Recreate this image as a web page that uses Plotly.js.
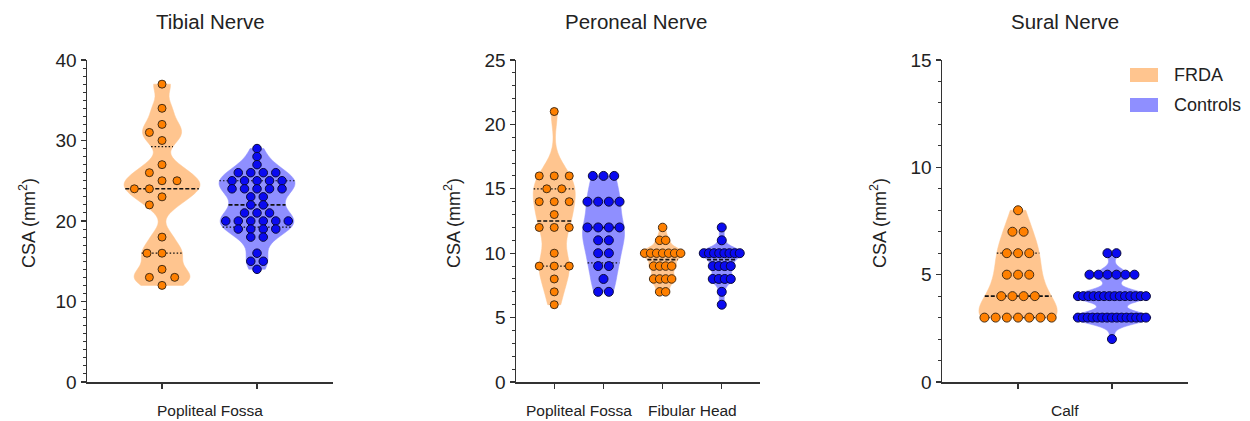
<!DOCTYPE html>
<html><head><meta charset="utf-8">
<script src="https://cdn.plot.ly/plotly-3.0.1.min.js"></script>
<style>html,body{margin:0;padding:0;background:#fff;} #chart{width:1250px;height:421px;}</style>
</head><body><div id="chart"></div>
<script>
// ---------------- DATA ----------------
const panelTitles = ['Tibial Nerve', 'Peroneal Nerve', 'Sural Nerve'];
const seriesNames = ['FRDA', 'Controls'];
const groupLabels = [['Popliteal Fossa'], ['Popliteal Fossa', 'Fibular Head'], ['Calf']];
const yAxisTitle = 'CSA (mm<sup>2</sup>)';

const tibialFRDA = [37,34,32,31,30,27,26,25,25,24,24,23,22,18,16,16,14,13,13,12];
const tibialControls = [29,28,27,26,26,26,26,25,25,25,25,25,24,24,24,24,24,23,23,22,22,21,21,21,20,20,20,20,20,20,19,19,19,19,18,18,16,15,15,14];
const peronealPoplitealFRDA = [21,16,16,16,15,15,14,14,14,13,12,12,12,10,9,9,9,8,7,6];
const peronealPoplitealControls = [16,16,16,14,14,14,14,12,12,12,12,11,11,10,10,9,9,8,7,7];
const peronealFibularFRDA = [12,11,11,10,10,10,10,10,10,10,9,9,9,9,8,8,8,8,7,7];
const peronealFibularControls = [12,11,10,10,10,10,10,10,10,10,9,9,9,9,8,8,8,8,7,6];
const suralFRDA = [8,7,7,6,6,6,5,5,5,4,4,4,4,3,3,3,3,3,3,3];
const suralControls = [6,6,5,5,5,5,5,5,4,4,4,4,4,4,4,4,4,4,4,4,4,4,3,3,3,3,3,3,3,3,3,3,3,3,3,3,3,2];

// ---------------- LAYOUT CONFIG ----------------
const W = 1250, H = 421;
const plotTopPx = 60, plotBottomPx = 382;
const panels = [
  {domPx: [87, 333], pos: [0, 1], range: [-0.79, 1.8], yMax: 40, major: 10, yTitlePx: 27, titlePx: 210},
  {domPx: [516, 760], pos: [0, 1, 2.2, 3.4], range: [-0.776, 4.176], yMax: 25, major: 5, yTitlePx: 452, titlePx: 636},
  {domPx: [942, 1188], pos: [0, 1], range: [-0.81, 1.81], yMax: 15, major: 5, yTitlePx: 878, titlePx: 1065}
];
const fills = ['rgb(255,197,143)', 'rgb(143,143,255)'];
const dotColors = ['rgb(255,128,0)', 'rgb(10,10,240)'];
const dotLines = ['rgb(70,45,20)', 'rgb(10,10,60)'];

const series = [
  {panel: 0, slot: 0, grp: 0, data: tibialFRDA, bw: 1.15, halfPx: 38, mode: 'swarm', distPx: 15, size: 8},
  {panel: 0, slot: 1, grp: 1, data: tibialControls, bw: 1.3, halfPx: 38, mode: 'rows', gapPx: 12.5, spanPx: 66, size: 8.5},
  {panel: 1, slot: 0, grp: 0, data: peronealPoplitealFRDA, bw: 1.2, halfPx: 21, mode: 'rows', gapPx: 15, spanPx: 32, size: 8},
  {panel: 1, slot: 1, grp: 1, data: peronealPoplitealControls, bw: 1.1, halfPx: 21, mode: 'rows', gapPx: 10.7, spanPx: 34, size: 9},
  {panel: 1, slot: 2, grp: 0, data: peronealFibularFRDA, bw: 0.4, halfPx: 22, mode: 'rows', gapPx: 6, spanPx: 36, size: 8.5},
  {panel: 1, slot: 3, grp: 1, data: peronealFibularControls, bw: 0.4, halfPx: 22, mode: 'rows', gapPx: 6, spanPx: 36, size: 9},
  {panel: 2, slot: 0, grp: 0, data: suralFRDA, bw: 0.7, halfPx: 39, mode: 'rows', gapPx: 11.2, spanPx: 70, size: 9},
  {panel: 2, slot: 1, grp: 1, data: suralControls, bw: 0.28, halfPx: 39, mode: 'rows', gapPx: 9, spanPx: 68, size: 9}
];

// ---------------- HELPERS ----------------
function pxPerUnit(p) { return (p.domPx[1] - p.domPx[0]) / (p.range[1] - p.range[0]); }
function yPxPerUnit(p) { return (plotBottomPx - plotTopPx) / p.yMax; }
function kde(vals, bw, x) {
  let s = 0;
  for (const v of vals) { const z = (x - v) / bw; s += Math.exp(-0.5 * z * z); }
  return s / (vals.length * bw);
}
function quantile(vals, p) { // Prism-style (n+1)p
  const a = vals.slice().sort((m, n) => m - n);
  const n = a.length; let h = (n + 1) * p;
  if (h <= 1) return a[0]; if (h >= n) return a[n - 1];
  const lo = Math.floor(h); return a[lo - 1] + (h - lo) * (a[lo] - a[lo - 1]);
}
function rowsLayout(vals, gap, span) {
  const groups = {}; const offs = new Array(vals.length);
  vals.forEach((v, i) => { (groups[v] = groups[v] || []).push(i); });
  Object.keys(groups).forEach(k => {
    const idx = groups[k]; const n = idx.length;
    const s = n > 1 ? Math.min(gap, span / (n - 1)) : 0;
    idx.forEach((ii, j) => { offs[ii] = (j - (n - 1) / 2) * s; });
  });
  return offs;
}
function swarmLayout(vals, D, yppu, limitFn) { // collision-based beeswarm in px
  const order = vals.map((v, i) => i).sort((a, b) => vals[b] - vals[a]);
  const placed = []; const offs = new Array(vals.length);
  order.forEach(i => {
    const y = vals[i] * yppu;
    const cands = [0];
    placed.forEach(q => {
      const dy = Math.abs(q.y - y);
      if (dy < D) { const dx = Math.sqrt(D * D - dy * dy); cands.push(q.x - dx, q.x + dx); }
    });
    let ok = cands.filter(c => placed.every(q => (q.x - c) ** 2 + (q.y - y) ** 2 >= D * D - 1e-6));
    ok.sort((a, b) => Math.abs(a) - Math.abs(b) || a - b);
    const lim = limitFn(vals[i]);
    const inside = ok.filter(c => Math.abs(c) <= lim);
    const x = inside.length ? inside[0] : ok[0];
    placed.push({x: x, y: y}); offs[i] = x;
  });
  return offs;
}

// ---------------- BUILD ----------------
const traces = [];
const lineTraces = [];
const dotTraces = [];
const layout = {
  width: W, height: H, margin: {l: 0, r: 0, t: 0, b: 0},
  paper_bgcolor: '#fff', plot_bgcolor: 'rgba(0,0,0,0)', showlegend: false,
  font: {family: 'Liberation Sans, Arial, sans-serif', color: '#222'},
  violinmode: 'overlay', annotations: [], shapes: []
};
const yDom = [(H - plotBottomPx) / H, (H - plotTopPx) / H];

panels.forEach((p, i) => {
  const sfx = i === 0 ? '' : String(i + 1);
  layout['xaxis' + sfx] = {
    domain: [p.domPx[0] / W, p.domPx[1] / W], range: p.range, anchor: 'y' + sfx,
    showline: true, linecolor: '#333', linewidth: 1.5, zeroline: false, showgrid: false,
    tickmode: 'array', tickvals: p.pos, showticklabels: false, ticks: 'outside',
    ticklen: 5, tickwidth: 1.2, tickcolor: '#333', fixedrange: true
  };
  layout['yaxis' + sfx] = {
    domain: yDom, range: [0, p.yMax], anchor: 'x' + sfx,
    showline: true, linecolor: '#333', linewidth: 1.5, zeroline: false, showgrid: false,
    dtick: p.major, tick0: 0, ticks: 'outside', ticklen: 5, tickwidth: 1.2, tickcolor: '#333',
    tickfont: {size: 19, color: '#222'},
    minor: {dtick: 1, ticks: 'outside', ticklen: 3, tickwidth: 1, tickcolor: '#333', showgrid: false}
  };
  layout.annotations.push({
    text: panelTitles[i], xref: 'paper', yref: 'paper', x: p.titlePx / W, y: 1 - 22 / H,
    xanchor: 'center', yanchor: 'middle', showarrow: false, font: {size: 20.5, color: '#222'}
  });
  layout.annotations.push({
    text: yAxisTitle, xref: 'paper', yref: 'paper', x: p.yTitlePx / W, y: 1 - 223 / H,
    xanchor: 'center', yanchor: 'middle', textangle: -90, showarrow: false, font: {size: 18, color: '#222'}
  });
  groupLabels[i].forEach((lab, g) => {
    layout.annotations.push({
      text: lab, xref: 'x' + sfx, yref: 'paper', x: (p.pos[2 * g] + p.pos[2 * g + 1]) / 2, y: 1 - 410 / H,
      xanchor: 'center', yanchor: 'middle', showarrow: false, font: {size: 15.5, color: '#222'}
    });
  });
});

series.forEach(s => {
  const p = panels[s.panel];
  const sfx = s.panel === 0 ? '' : String(s.panel + 1);
  const ppu = pxPerUnit(p);
  const x0 = p.pos[s.slot];
  const halfW = s.halfPx / ppu;
  traces.push({
    type: 'violin', x0: x0, y: s.data, xaxis: 'x' + sfx, yaxis: 'y' + sfx,
    width: 2 * halfW, bandwidth: s.bw, spanmode: 'hard', scalemode: 'width',
    fillcolor: fills[s.grp], line: {color: fills[s.grp], width: 0.5},
    points: false, box: {visible: false}, meanline: {visible: false},
    hoverinfo: 'skip', name: seriesNames[s.grp]
  });
  const mn = Math.min(...s.data), mx = Math.max(...s.data);
  let maxK = 0;
  for (let k = 0; k <= 400; k++) { maxK = Math.max(maxK, kde(s.data, s.bw, mn + (mx - mn) * k / 400)); }
  const halfPxAt = v => s.halfPx * kde(s.data, s.bw, v) / maxK;
  [[0.25, 'dot', 1.2], [0.5, 'dash', 1.6], [0.75, 'dot', 1.2]].forEach(([q, dash, w]) => {
    const v = quantile(s.data, q);
    const hw = halfW * kde(s.data, s.bw, v) / maxK;
    lineTraces.push({
      type: 'scatter', mode: 'lines', x: [x0 - hw, x0 + hw], y: [v, v], xaxis: 'x' + sfx, yaxis: 'y' + sfx,
      line: {color: '#111', width: w, dash: dash === 'dash' ? '4px,2px' : '1.5px,2px'}, hoverinfo: 'skip'
    });
  });
  const offs = s.mode === 'swarm'
    ? swarmLayout(s.data, s.distPx, yPxPerUnit(p), v => halfPxAt(v) - s.size / 2)
    : rowsLayout(s.data, s.gapPx, s.spanPx);
  dotTraces.push({
    type: 'scatter', mode: 'markers', x: offs.map(o => x0 + o / ppu), y: s.data,
    xaxis: 'x' + sfx, yaxis: 'y' + sfx,
    marker: {size: s.size, color: dotColors[s.grp], line: {color: dotLines[s.grp], width: 1}},
    hoverinfo: 'skip'
  });
});

// custom legend
seriesNames.forEach((nm, g) => {
  const yc = 75 + g * 30;
  layout.shapes.push({type: 'rect', xref: 'paper', yref: 'paper', x0: 1130 / W, x1: 1158 / W,
    y0: 1 - (yc + 7) / H, y1: 1 - (yc - 7) / H, fillcolor: fills[g], line: {width: 0}});
  layout.annotations.push({text: nm, xref: 'paper', yref: 'paper', x: 1172 / W, y: 1 - yc / H,
    xanchor: 'left', yanchor: 'middle', showarrow: false, font: {size: 18, color: '#222'}});
});

Plotly.newPlot('chart', traces.concat(lineTraces, dotTraces), layout, {staticPlot: true, displayModeBar: false});
</script>
</body></html>
